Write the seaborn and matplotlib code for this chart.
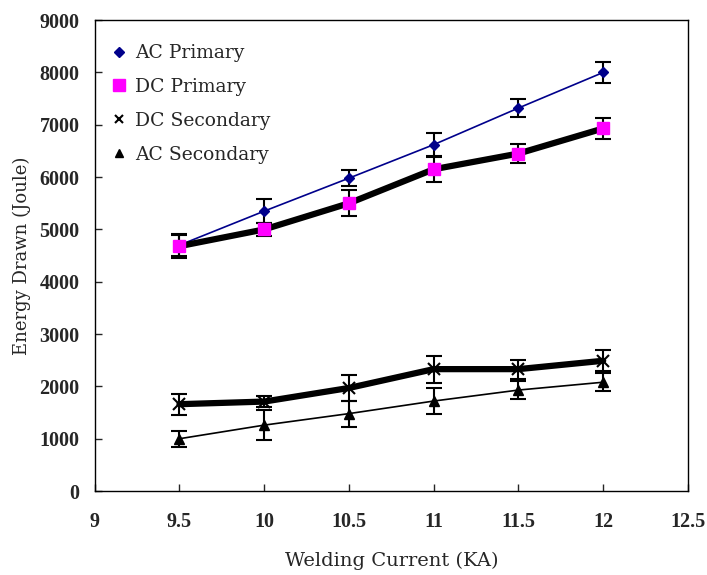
import matplotlib
matplotlib.use("Agg")
import matplotlib.pyplot as plt
from matplotlib.lines import Line2D
import seaborn as sns
import pandas as pd

current = [9.5, 10, 10.5, 11, 11.5, 12]

ac_primary = [4700, 5350, 5980, 6620, 7320, 8000]
ac_primary_err = [200, 230, 150, 230, 180, 200]

dc_primary = [4680, 5000, 5500, 6150, 6450, 6930]
dc_primary_err = [230, 130, 250, 250, 180, 200]

dc_secondary = [1660, 1710, 1970, 2330, 2330, 2490]
dc_secondary_err = [200, 100, 250, 260, 180, 200]

ac_secondary = [1000, 1260, 1480, 1720, 1930, 2080]
ac_secondary_err = [150, 280, 250, 250, 170, 170]

x_ticks = [9, 9.5, 10, 10.5, 11, 11.5, 12, 12.5]
x_tick_labels = ["9", "9.5", "10", "10.5", "11", "11.5", "12", "12.5"]
y_ticks = [0, 1000, 2000, 3000, 4000, 5000, 6000, 7000, 8000, 9000]

sns.set_style("ticks")
plt.rcParams["font.family"] = ["DejaVu Serif"]

fig = plt.figure(figsize=(7.07, 5.75), dpi=100)
ax = fig.add_axes([0.134, 0.146, 0.839, 0.819])

series = [
    ("AC Primary", ac_primary, ac_primary_err, dict(color="#00008B", lw=1.2, marker="D", ms=5, mfc="#00008B", mec="#00008B")),
    ("DC Primary", dc_primary, dc_primary_err, dict(color="black", lw=4.5, marker="s", ms=9, mfc="#FF00FF", mec="#FF00FF")),
    ("DC Secondary", dc_secondary, dc_secondary_err, dict(color="black", lw=4.5, marker="x", ms=8, mfc="black", mec="black", mew=1.5)),
    ("AC Secondary", ac_secondary, ac_secondary_err, dict(color="black", lw=1.2, marker="^", ms=7, mfc="black", mec="black")),
]

for name, vals, errs, st in series:
    df = pd.DataFrame({"x": current, "y": vals})
    ax.errorbar(current, vals, yerr=errs, fmt="none", ecolor="black",
                elinewidth=1.5, capsize=6, capthick=1.5, zorder=2)
    sns.lineplot(data=df, x="x", y="y", ax=ax, color=st["color"], lw=st["lw"],
                 marker=st["marker"], markersize=st["ms"], markerfacecolor=st["mfc"],
                 markeredgecolor=st["mec"], markeredgewidth=st.get("mew", 1),
                 zorder=3, legend=False)

ax.set_xlim(9, 12.5)
ax.set_ylim(0, 9000)
ax.set_xticks(x_ticks)
ax.set_xticklabels(x_tick_labels)
ax.set_yticks(y_ticks)
ax.tick_params(axis="both", direction="in", length=5, width=1)
ax.tick_params(axis="x", pad=15)
ax.tick_params(axis="y", pad=11)
for lab in ax.get_xticklabels() + ax.get_yticklabels():
    lab.set_fontfamily(["Liberation Serif"])
    lab.set_fontweight("bold")
    lab.set_fontsize(14.5)
for sp in ax.spines.values():
    sp.set_linewidth(1.0)
    sp.set_color("black")

ax.set_xlabel("Welding Current (KA)", fontsize=14, labelpad=14)
ax.set_ylabel("Energy Drawn (Joule)", fontsize=13, labelpad=6)

handles = [
    Line2D([], [], ls="none", marker="D", ms=5, mfc="#00008B", mec="#00008B"),
    Line2D([], [], ls="none", marker="s", ms=8, mfc="#FF00FF", mec="#FF00FF"),
    Line2D([], [], ls="none", marker="x", ms=6, mec="black", mew=1.5),
    Line2D([], [], ls="none", marker="^", ms=6, mfc="black", mec="black"),
]
labels = [s[0] for s in series]
leg = ax.legend(handles, labels, loc="upper left", bbox_to_anchor=(0.0, 0.985),
                frameon=False, fontsize=13.5, handlelength=0.8, handletextpad=0.45,
                labelspacing=0.85, borderaxespad=0.5)

fig.savefig("out.png", dpi=100)
